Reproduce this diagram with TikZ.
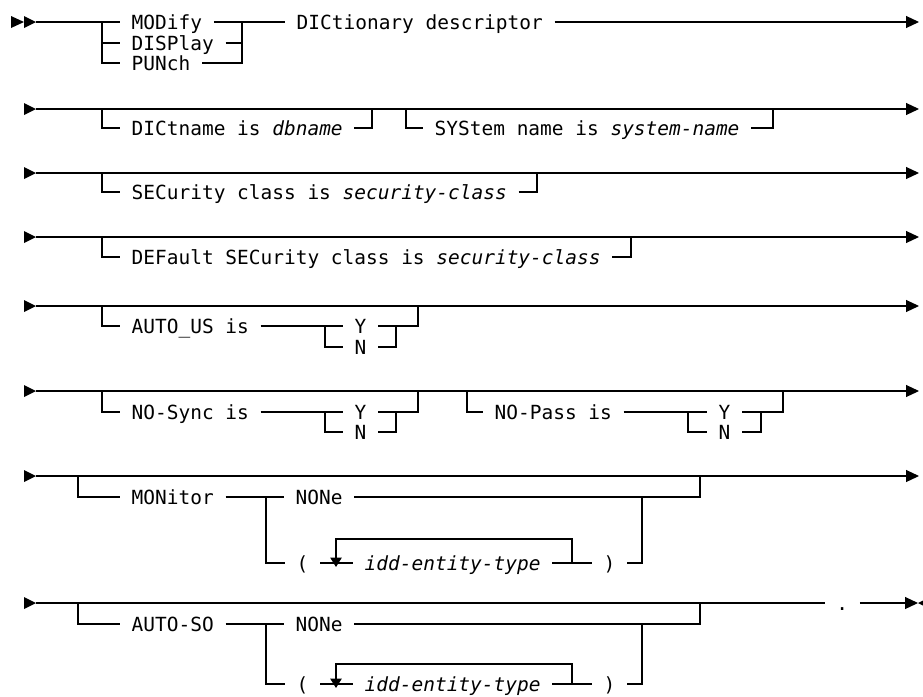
\documentclass[tikz,border=0pt]{standalone}
\usepackage{fontspec}
\newfontfamily\railfont{DejaVu Sans Mono}
\usetikzlibrary{arrows.meta}

\begin{document}
\begin{tikzpicture}[x=0.75pt,y=-0.75pt,
    rail/.style={line width=0.8pt},
    kw/.style={anchor=west,inner xsep=8.6pt,inner ysep=0pt,text height=10.6pt,text depth=0pt,
      font=\railfont\fontsize{14.6pt}{17pt}\selectfont},
    endarr/.style={-{Triangle[length=9.75pt,width=9pt]}},
    looparr/.style={-{Triangle[length=7pt,width=8.5pt]}}]

            \useasboundingbox (0,0) rectangle (923,696);
            \clip (0,0) rectangle (923,696);

            % start marks
            \fill (11,16) -- (24,22) -- (11,28) -- cycle;
            \fill (24,16) -- (36,22) -- (24,28) -- cycle;
            \foreach \y in {109,173,237,306,391,476,603}
              \fill (24,\y-6) -- (36,\y) -- (24,\y+6) -- cycle;

            % MODify / DISPlay / PUNch
            \coordinate (s1) at (36,22);
            \coordinate (e1) at (919,22);
            \coordinate (b1) at (102,22);
            \coordinate (j1) at (242,22);
            \node[kw] (modify) at (120,22) {MODify};
            \node[kw] (display) at (120,43) {DISPlay};
            \node[kw] (punch) at (120,63) {PUNch};
            \node[kw] (dictdesc) at (285,22) {DICtionary descriptor};
            \draw[rail] (s1)--(modify.west) (modify.east)--(dictdesc.west);
            \draw[rail] (b1)|-(display.west) (b1)|-(punch.west);
            \draw[rail] (display.east)-|(j1) (punch.east)-|(j1);
            \draw[rail,endarr] (dictdesc.east)--(e1);

            % DICtname / SYStem name
            \coordinate (s2) at (36,109);
            \coordinate (e2) at (919,109);
            \coordinate (b2) at (102,109);
            \coordinate (j2) at (372,109);
            \coordinate (b2a) at (406,109);
            \coordinate (j2a) at (773,109);
            \node[kw] (dictname) at (120,128) {DICtname is \textit{dbname}};
            \node[kw] (sysname) at (423,128) {SYStem name is \textit{system-name}};
            \draw[rail,endarr] (s2)--(e2);
            \draw[rail] (b2)|-(dictname.west) (dictname.east)-|(j2);
            \draw[rail] (b2a)|-(sysname.west) (sysname.east)-|(j2a);

            % SECurity class
            \coordinate (s3) at (36,173);
            \coordinate (e3) at (919,173);
            \coordinate (b3) at (102,173);
            \coordinate (j3) at (537,173);
            \node[kw] (secclass) at (120,192) {SECurity class is \textit{security-class}};
            \draw[rail,endarr] (s3)--(e3);
            \draw[rail] (b3)|-(secclass.west) (secclass.east)-|(j3);

            % DEFault SECurity class
            \coordinate (s4) at (36,237);
            \coordinate (e4) at (919,237);
            \coordinate (b4) at (102,237);
            \coordinate (j4) at (631,237);
            \node[kw] (defclass) at (120,257) {DEFault SECurity class is \textit{security-class}};
            \draw[rail,endarr] (s4)--(e4);
            \draw[rail] (b4)|-(defclass.west) (defclass.east)-|(j4);

            % AUTO_US
            \coordinate (s5) at (36,306);
            \coordinate (e5) at (919,306);
            \coordinate (b5) at (102,306);
            \coordinate (j5) at (418,306);
            \coordinate (c5) at (325,326);
            \coordinate (d5) at (396,326);
            \node[kw] (autous) at (120,326) {AUTO\_US is};
            \node[kw] (usy) at (343,326) {Y};
            \node[kw] (usn) at (343,347) {N};
            \draw[rail,endarr] (s5)--(e5);
            \draw[rail] (b5)|-(autous.west) (autous.east)--(usy.west) (usy.east)-|(j5);
            \draw[rail] (c5)|-(usn.west) (usn.east)-|(d5);

            % NO-Sync / NO-Pass
            \coordinate (s6) at (36,391);
            \coordinate (e6) at (919,391);
            \coordinate (b6) at (102,391);
            \coordinate (j6) at (418,391);
            \coordinate (c6) at (325,412);
            \coordinate (d6) at (396,412);
            \coordinate (b6a) at (467,391);
            \coordinate (j6a) at (783,391);
            \coordinate (c6a) at (688,412);
            \coordinate (d6a) at (761,412);
            \node[kw] (nosync) at (120,412) {NO-Sync is};
            \node[kw] (syy) at (343,412) {Y};
            \node[kw] (syn) at (343,432) {N};
            \node[kw] (nopass) at (483,412) {NO-Pass is};
            \node[kw] (psy) at (707,412) {Y};
            \node[kw] (psn) at (707,432) {N};
            \draw[rail,endarr] (s6)--(e6);
            \draw[rail] (b6)|-(nosync.west) (nosync.east)--(syy.west) (syy.east)-|(j6);
            \draw[rail] (c6)|-(syn.west) (syn.east)-|(d6);
            \draw[rail] (b6a)|-(nopass.west) (nopass.east)--(psy.west) (psy.east)-|(j6a);
            \draw[rail] (c6a)|-(psn.west) (psn.east)-|(d6a);

            % MONitor
            \coordinate (s7) at (36,476);
            \coordinate (e7) at (919,476);
            \coordinate (b7) at (78,476);
            \coordinate (j7) at (700,476);
            \coordinate (c7) at (266,497);
            \coordinate (d7) at (642,497);
            \coordinate (lr7) at (572,563);
            \coordinate (lp7) at (336,539);
            \coordinate (lt7) at (336,567);
            \node[kw] (monitor) at (120,497) {MONitor};
            \node[kw] (mnone) at (284,497) {NONe};
            \node[kw] (mlpar) at (285,563) {(};
            \node[kw] (midd) at (353,563) {\textit{idd-entity-type}};
            \node[kw] (mrpar) at (592,563) {)};
            \draw[rail,endarr] (s7)--(e7);
            \draw[rail] (b7)|-(monitor.west) (monitor.east)--(mnone.west) (mnone.east)-|(j7);
            \draw[rail] (c7)|-(mlpar.west) (mlpar.east)--(midd.west) (midd.east)--(mrpar.west) (mrpar.east)-|(d7);
            \draw[rail,looparr] (lr7)|-(lp7)--(lt7);

            % AUTO-SO
            \coordinate (s8) at (36,603);
            \coordinate (e8) at (918,603);
            \coordinate (b8) at (78,603);
            \coordinate (j8) at (700,603);
            \coordinate (c8) at (266,624);
            \coordinate (d8) at (642,624);
            \coordinate (lr8) at (572,684);
            \coordinate (lp8) at (336,664);
            \coordinate (lt8) at (336,688);
            \node[kw] (autoso) at (120,624) {AUTO-SO};
            \node[kw] (snone) at (284,624) {NONe};
            \node[kw] (slpar) at (285,684) {(};
            \node[kw] (sidd) at (353,684) {\textit{idd-entity-type}};
            \node[kw] (srpar) at (592,684) {)};
            \node[kw] (stop) at (824.6,603) {.};
            \draw[rail] (s8)--(stop.west);
            \draw[rail,endarr] (stop.east)--(e8);
            \fill (918,603) -- (930,597) -- (930,609) -- cycle;
            \draw[rail] (b8)|-(autoso.west) (autoso.east)--(snone.west) (snone.east)-|(j8);
            \draw[rail] (c8)|-(slpar.west) (slpar.east)--(sidd.west) (sidd.east)--(srpar.west) (srpar.east)-|(d8);
            \draw[rail,looparr] (lr8)|-(lp8)--(lt8);

\end{tikzpicture}
\end{document}
